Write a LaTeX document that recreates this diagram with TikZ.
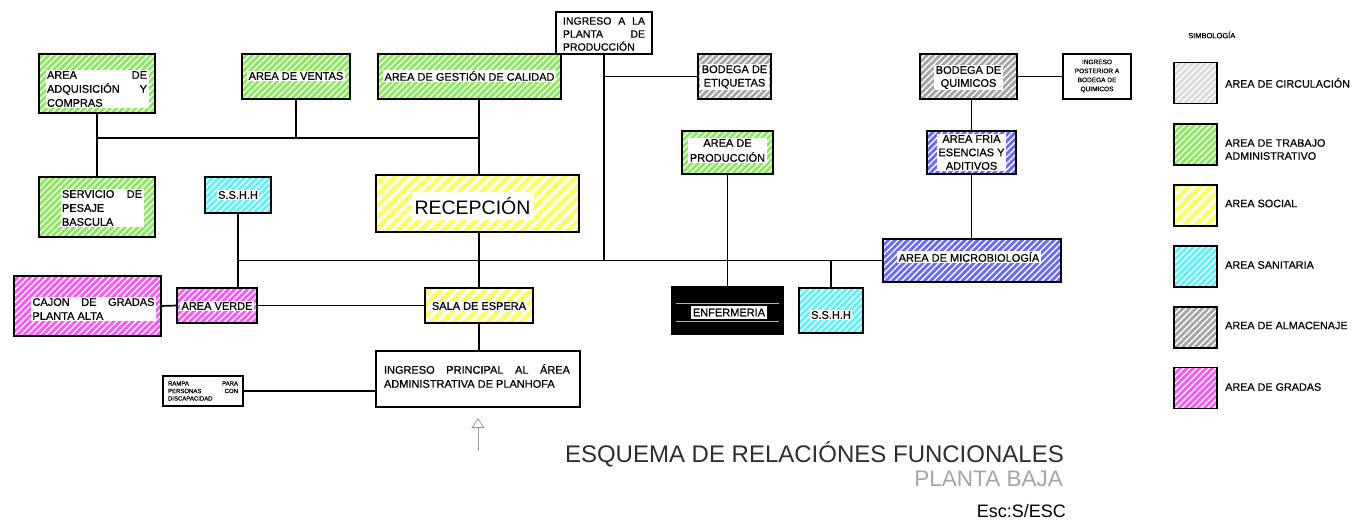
\documentclass[tikz,border=0pt]{standalone}
\usepackage{fontspec}
\setmainfont{Liberation Sans}
\newfontfamily\heavy{Liberation Sans}[FakeBold=0.6]
\usetikzlibrary{patterns.meta,arrows.meta,calc}

\definecolor{cGreen}{RGB}{135,235,90}
\definecolor{cYellow}{RGB}{255,255,100}
\definecolor{cCyan}{RGB}{90,245,255}
\definecolor{cGrayD}{RGB}{165,165,165}
\definecolor{cGrayL}{RGB}{218,218,218}
\definecolor{cMag}{RGB}{255,85,255}
\definecolor{cBlue}{RGB}{105,105,255}
\definecolor{cTitle}{RGB}{45,45,45}
\definecolor{cSub}{RGB}{165,165,165}

\tikzset{
  zone/.style n args={2}{minimum width=#1, minimum height=#2, inner sep=0pt, outer sep=0pt},
  hatch/.style={fill=#1,
    postaction={pattern={Lines[angle=45,distance=4.5pt,line width=1.4pt]}, pattern color=white},
    postaction={draw=black, line width=1.7pt}},
  whatch/.style={fill=#1,
    postaction={pattern={Lines[angle=45,distance=8pt,line width=3.2pt]}, pattern color=white},
    postaction={draw=black, line width=1.7pt}},
  plainbox/.style={fill=white, draw=black, line width=1.7pt},
  blackbox/.style={fill=black, draw=black, line width=1.7pt},
  lbl/.style={fill=white, inner sep=1.5pt, font=\heavy\fontsize{11}{14}\selectfont, align=center},
  lblj/.style={fill=white, inner sep=1.5pt, font=\heavy\fontsize{11}{14}\selectfont, align=justify, text width=#1},
  link/.style={draw=black, line width=1.7pt},
  leg/.style={anchor=west, inner sep=0pt, font=\heavy\fontsize{10.8}{13}\selectfont, align=left},
}

\begin{document}
\begin{tikzpicture}[x=1pt,y=-1pt]
\useasboundingbox (0,0) rectangle (1358,521);

% ---------- boxes ----------
\node[zone={116pt}{59pt}, hatch=cGreen] (adq) at (97,83.5) {};
\node[lblj=100pt] (adqT) at (97,89) {AREA\hfill DE\\ADQUISICIÓN\hfill Y\\COMPRAS};

\node[zone={108pt}{45pt}, hatch=cGreen] (ventas) at (296,76.5) {};
\node[lbl] (ventasT) at (296,76) {AREA DE VENTAS};

\node[zone={183pt}{45pt}, hatch=cGreen] (gestion) at (469.5,76.5) {};
\node[lbl] (gestionT) at (469.5,76) {AREA DE GESTIÓN DE CALIDAD};

\node[zone={96pt}{42pt}, plainbox] (ingPlanta) at (604,33) {};
\node[lblj=82pt, font=\heavy\fontsize{10.5}{13}\selectfont] (ingPlantaT) at (604,34) {INGRESO\hfill A\hfill LA\\PLANTA\hfill DE\\PRODUCCIÓN};

\node[zone={73pt}{45pt}, hatch=cGrayD] (etiq) at (734.5,76.5) {};
\node[lbl, font=\heavy\fontsize{11}{13.5}\selectfont] (etiqT) at (734.5,77) {BODEGA DE\\ETIQUETAS};

\node[zone={91pt}{43pt}, hatch=cGreen] (prod) at (727.5,152.5) {};
\node[lbl, font=\heavy\fontsize{11}{15}\selectfont] (prodT) at (727.5,150.5) {AREA DE\\PRODUCCIÓN};

\node[zone={203pt}{57pt}, whatch=cYellow] (recep) at (477.5,203.5) {};
\node[lbl, font=\fontsize{19.5}{22}\selectfont, inner xsep=4pt, inner ysep=5pt] (recepT) at (472.5,206) {RECEPCIÓN};

\node[zone={116pt}{60pt}, hatch=cGreen] (pesaje) at (97,207) {};
\node[lblj=80pt] (pesajeT) at (102,208) {SERVICIO\hfill DE\\PESAJE\\BASCULA};

\node[zone={66pt}{36pt}, hatch=cCyan] (sshhL) at (238,195) {};
\node[lbl] (sshhLT) at (238,195) {S.S.H.H};

\node[zone={147pt}{60pt}, hatch=cMag] (cajon) at (87.5,306) {};
\node[lblj=122pt] (cajonT) at (93.5,309) {CAJON\hfill DE\hfill GRADAS\\PLANTA ALTA};

\node[zone={80pt}{35pt}, hatch=cMag] (verde) at (217,305.5) {};
\node[lbl] (verdeT) at (217,306) {AREA VERDE};

\node[zone={108pt}{35pt}, whatch=cYellow] (sala) at (479,305.5) {};
\node[lbl] (salaT) at (479,306) {SALA DE ESPERA};

\node[zone={204pt}{56pt}, plainbox] (ingPrin) at (478,379) {};
\node[lblj=186pt] (ingPrinT) at (477,376) {INGRESO\hfill PRINCIPAL\hfill AL\hfill ÁREA\\ADMINISTRATIVA DE PLANHOFA};

\node[zone={80pt}{30pt}, plainbox] (rampa) at (203,391) {};
\node[lblj=70pt, font=\heavy\fontsize{6}{7.5}\selectfont] (rampaT) at (203,391) {RAMPA\hfill PARA\\PERSONAS\hfill CON\\DISCAPACIDAD};

\node[zone={111pt}{47pt}, blackbox] (enf) at (727.5,310.5) {};
\draw[gray!60, line width=0.7pt] ($(enf.west)+(4,-7.5)$) -- ($(enf.east)+(-4,-7.5)$);
\draw[gray!60, line width=0.7pt] ($(enf.west)+(4,10.5)$) -- ($(enf.east)+(-4,10.5)$);
\node[lbl, inner ysep=3pt] (enfT) at (729,312.5) {ENFERMERIA};

\node[zone={64pt}{45pt}, hatch=cCyan] (sshhR) at (831,310.5) {};
\node[lbl] (sshhRT) at (831,315) {S.S.H.H};

\node[zone={178pt}{43pt}, hatch=cBlue] (micro) at (972,260.5) {};
\node[lbl] (microT) at (969,257) {AREA DE MICROBIOLOGÍA};

\node[zone={89pt}{43pt}, hatch=cBlue] (fria) at (971.5,152.5) {};
\node[lbl, font=\heavy\fontsize{11}{13.5}\selectfont] (friaT) at (971.5,152.5) {AREA FRIA\\ESENCIAS Y\\ADITIVOS};

\node[zone={97pt}{45pt}, hatch=cGrayD] (quim) at (968.5,76.5) {};
\node[lbl, font=\heavy\fontsize{11}{13}\selectfont] (quimT) at (968.5,77.5) {BODEGA DE\\QUIMICOS};

\node[zone={68pt}{45pt}, plainbox] (ingPost) at (1097,76.5) {};
\node[lbl, font=\heavy\fontsize{6.5}{9}\selectfont] (ingPostT) at (1097,76) {INGRESO\\POSTERIOR A\\BODEGA DE\\QUIMICOS};

% ---------- connectors ----------
\coordinate (j1) at (96,138);
\coordinate (c479) at (479,0);
\path[link] (adq.south) -- (pesaje.north);
\path[link] (j1) -- (c479 |- j1);
\path[link] (ventas.south) -- (ventas.south |- j1);
\path[link] (c479 |- gestion.south) -- (c479 |- recep.north);
\path[link] (ingPlanta.south) -- (ingPlanta.south |- micro.west);
\path[link] (ingPlanta.south |- etiq.west) -- (etiq.west);
\path[link] (prod.south) -- (enf.north);
\path[link] (sshhL.south |- micro.west) -- (micro.west);
\path[link] (sshhL.south) -- (sshhL.south |- verde.north);
\path[link] (sala.north |- recep.south) -- (sala.north);
\path[link] (sala.south) -- (sala.south |- ingPrin.north);
\path[link] (cajon.east) -- (verde.west);
\path[link] (verde.east) -- (sala.west);
\path[link] (rampa.east) -- (rampa.east -| ingPrin.west);
\path[link] (sshhR.north) -- (sshhR.north |- micro.west);
\path[link] (fria.north |- quim.south) -- (fria.north);
\path[link] (fria.south) -- (fria.south |- micro.north);
\path[link] (quim.east) -- (ingPost.west);

\coordinate (arrA) at (478,451);
\coordinate (arrB) at (478,418);
\draw[gray!80, line width=0.8pt, -{Triangle[open,length=10pt,width=13pt]}] (arrA) -- (arrB);

% ---------- legend ----------
\node[inner sep=0pt, anchor=west, font=\heavy\fontsize{7.5}{8}\selectfont] (simb) at (1188,35) {SIMBOLOGÍA};
\node[zone={43pt}{41pt}, hatch=cGrayL] (l1) at (1195.5,83) {};
\node[leg] (l1T) at (1225,83) {AREA DE CIRCULACIÓN};
\node[zone={43pt}{41pt}, hatch=cGreen] (l2) at (1195.5,144.5) {};
\node[leg] (l2T) at (1225,149.5) {AREA DE TRABAJO\\ADMINISTRATIVO};
\node[zone={43pt}{41pt}, whatch=cYellow] (l3) at (1195.5,205.5) {};
\node[leg] (l3T) at (1225,203.5) {AREA SOCIAL};
\node[zone={43pt}{41pt}, hatch=cCyan] (l4) at (1195.5,266.5) {};
\node[leg] (l4T) at (1225,265) {AREA SANITARIA};
\node[zone={43pt}{41pt}, hatch=cGrayD] (l5) at (1195.5,327.5) {};
\node[leg] (l5T) at (1225,325.5) {AREA DE ALMACENAJE};
\node[zone={43pt}{41pt}, hatch=cMag] (l6) at (1195.5,388) {};
\node[leg] (l6T) at (1225,387) {AREA DE GRADAS};

% ---------- title ----------
\node[anchor=base east, inner sep=0pt, text=cTitle, font=\fontsize{24}{26}\selectfont] (title) at (1064,462) {ESQUEMA DE RELACIÓNES FUNCIONALES};
\node[anchor=base east, inner sep=0pt, text=cSub, font=\fontsize{22.5}{24}\selectfont] (sub) at (1063,486) {PLANTA BAJA};
\node[anchor=base east, inner sep=0pt, text=black, font=\fontsize{18}{20}\selectfont] (esc) at (1066,517) {Esc:S/ESC};
\end{tikzpicture}
\end{document}
